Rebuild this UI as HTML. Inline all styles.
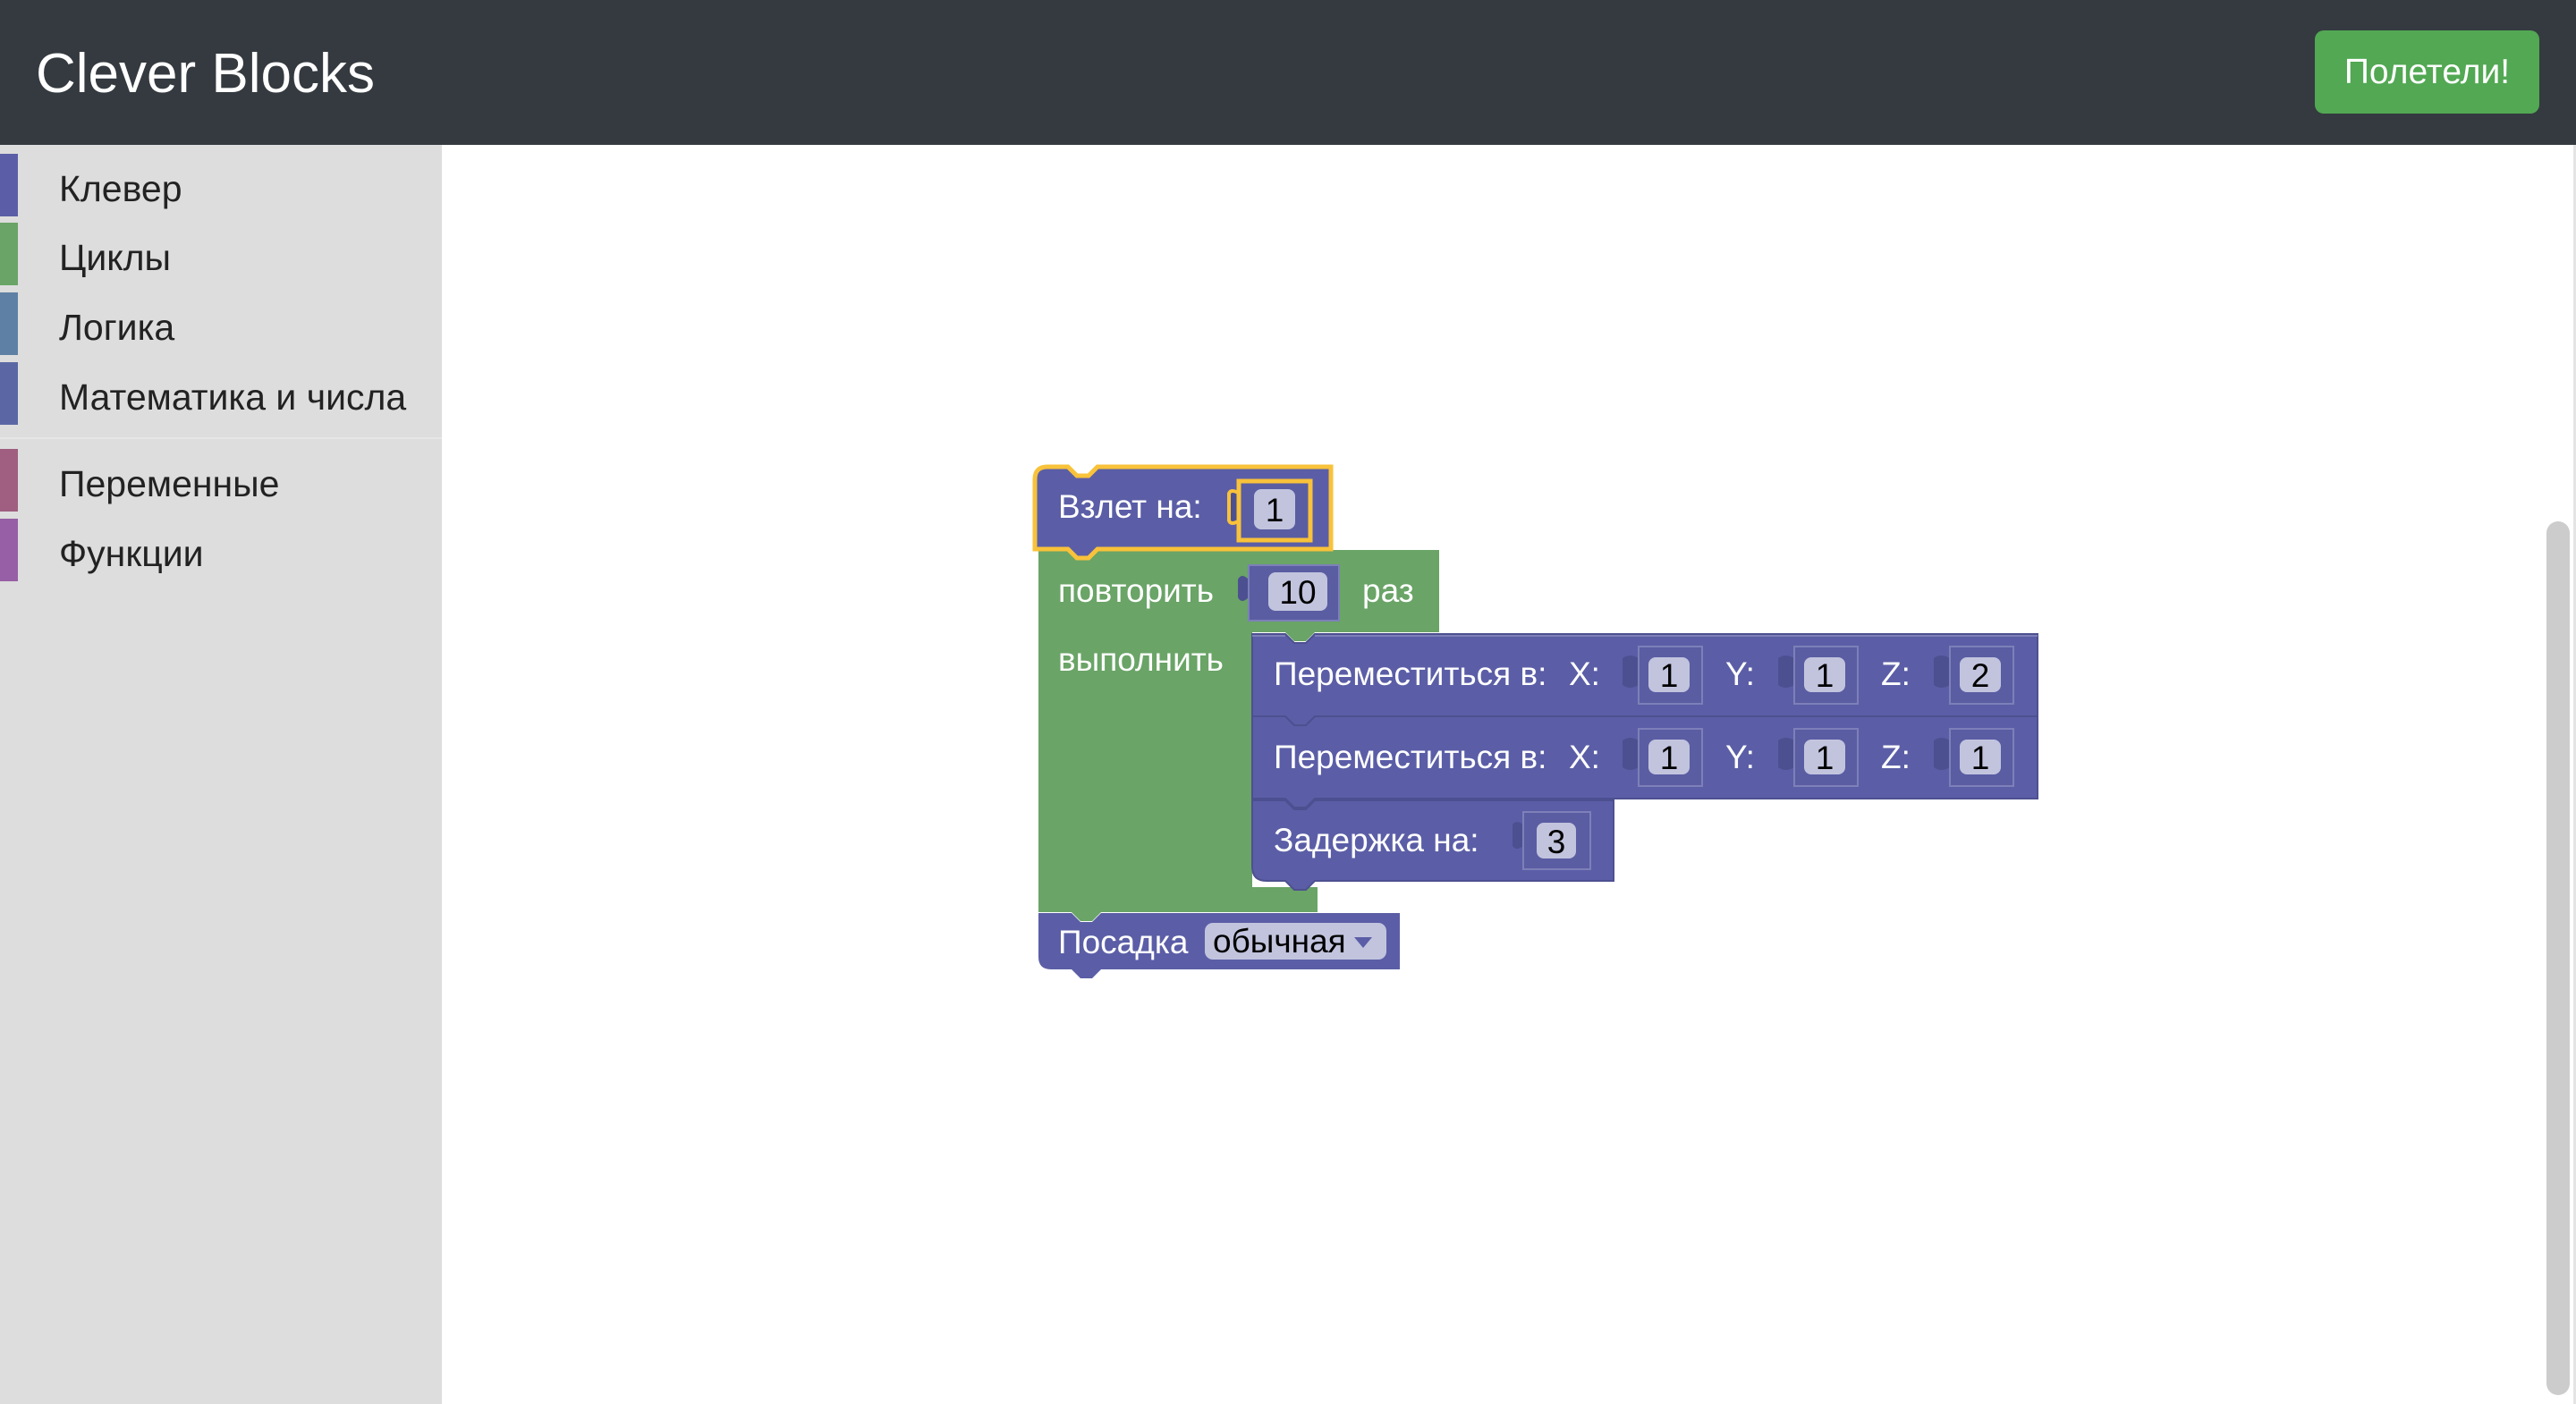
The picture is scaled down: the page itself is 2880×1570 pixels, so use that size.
<!DOCTYPE html>
<html><head><meta charset="utf-8"><style>
html,body{margin:0;padding:0;width:2880px;height:1570px;overflow:hidden;background:#fff;font-family:"Liberation Sans","Noto Sans CJK SC",sans-serif}
#hdr{position:absolute;left:0;top:0;width:2880px;height:162px;background:#343a40}
#title{position:absolute;left:40px;top:52px;font-size:62px;color:#fff;line-height:1}
#btn{position:absolute;left:2588px;top:34px;width:251px;height:93px;background:#52a853;border-radius:10px;color:#fff;font-size:39px;line-height:93px;text-align:center}
#side{position:absolute;left:0;top:162px;width:494px;height:1408px;background:#dddddd}
.it{position:absolute;left:0;height:70px;width:494px}
.it .b{position:absolute;left:0;top:0;width:20px;height:70px}
.it span{position:absolute;left:66px;top:19px;font-size:41px;color:#222;line-height:1}
#sep{position:absolute;left:0;top:327px;width:494px;height:2px;background:#e6e6e6}
#sb{position:absolute;left:2847px;top:583px;width:26px;height:977px;background:#cccccc;border-radius:13px}
#rb{position:absolute;left:2877px;top:162px;width:3px;height:1408px;background:#e4e4e4}
svg{position:absolute;left:0;top:0}
svg text{font-family:"Liberation Sans","Noto Sans CJK SC",sans-serif;font-size:37px}
</style></head><body>
<div id="hdr"><div id="title">Clever Blocks</div><div id="btn">Полетели!</div></div>
<div id="side">
<div class="it" style="top:10px"><div class="b" style="background:#5b5ea6"></div><span>Клевер</span></div>
<div class="it" style="top:87px"><div class="b" style="background:#6aa467"></div><span>Циклы</span></div>
<div class="it" style="top:165px"><div class="b" style="background:#5f80a5"></div><span>Логика</span></div>
<div class="it" style="top:243px"><div class="b" style="background:#5b67a5"></div><span>Математика и числа</span></div>
<div id="sep"></div>
<div class="it" style="top:340px"><div class="b" style="background:#a05e80"></div><span>Переменные</span></div>
<div class="it" style="top:418px"><div class="b" style="background:#975fa5"></div><span>Функции</span></div>
</div>
<div id="rb"></div>
<div id="sb"></div>
<svg width="2880" height="1570" viewBox="0 0 2880 1570">
<path d="M1161,1021 H1198 L1208,1031 H1221 L1231,1021 H1565 V1084 H1231 L1221,1094 H1208 L1198,1084 H1175 Q1161,1084 1161,1070 Z" fill="#5b5ea6"/>
<rect x="1347" y="1032" width="203" height="41" rx="9" fill="#c2c4de"/>
<text x="1183" y="1066" fill="#fff">Посадка</text>
<text x="1356" y="1065" fill="#000">обычная</text>
<path d="M1514,1048 L1534,1048 L1524,1060 Z" fill="#5b5ea6"/>
<path d="M1161,615 H1609 V707 H1470 L1460,717 H1447 L1437,707 H1400 V992 H1473 V1020 H1231 L1221,1030 H1208 L1198,1020 H1161 Z" fill="#6aa467"/>
<text x="1183" y="673" fill="#fff">повторить</text>
<text x="1523" y="673" fill="#fff">раз</text>
<text x="1183" y="750" fill="#fff">выполнить</text>
<path d="M1396,648 q-8,-8 -12,0 v20 q4,8 12,0 z" fill="#4d5090"/>
<rect x="1396" y="632" width="101" height="62" fill="#5a5da2" stroke="#7d80b8" stroke-width="2"/>
<rect x="1418" y="640" width="66" height="43" rx="8" fill="#c2c4de"/>
<text x="1451" y="675" fill="#000" text-anchor="middle">10</text>
<path d="M1171,522 H1194 L1204,532 H1217 L1227,522 H1488 V614 H1227 L1217,624 H1204 L1194,614 H1157 V536 Q1157,522 1171,522 Z" fill="#5b5ea6" stroke="#f8c23a" stroke-width="5"/>
<text x="1183" y="579" fill="#fff">Взлет на:</text>
<path d="M1386,552 q-10,-6 -12,0 v30 q2,6 12,0 z" fill="#4d5090" stroke="#f8c23a" stroke-width="4"/>
<rect x="1385" y="538" width="80" height="66" fill="#5a5da2" stroke="#f8c23a" stroke-width="5"/>
<rect x="1402" y="547" width="46" height="45" rx="8" fill="#c2c4de"/>
<text x="1425" y="583" fill="#000" text-anchor="middle">1</text>
<path d="M1400,895 H1437 L1447,905 H1460 L1470,895 H1804 V985 H1470 L1460,995 H1447 L1437,985 H1416 Q1400,985 1400,969 Z" fill="#5b5ea6" stroke="#4d5090" stroke-width="2"/>
<text x="1424" y="952" fill="#fff">Задержка на:</text>
<path d="M1703,922 q-8,-6 -12,0 v24 q4,6 12,0 z" fill="#4d5090"/>
<rect x="1703" y="908" width="75" height="64" fill="#5a5da2" stroke="#7d80b8" stroke-width="2"/>
<rect x="1718" y="920" width="44" height="40" rx="8" fill="#c2c4de"/>
<text x="1740" y="954" fill="#000" text-anchor="middle">3</text>
<path d="M1400,801 H1437 L1447,811 H1460 L1470,801 H2278 V893 H1470 L1460,903 H1447 L1437,893 H1400 Z" fill="#5b5ea6" stroke="#4d5090" stroke-width="2"/>
<text x="1424" y="859" fill="#fff">Переместиться в:</text>
<text x="1754" y="859" fill="#fff">X:</text>
<text x="1929" y="859" fill="#fff">Y:</text>
<text x="2103" y="859" fill="#fff">Z:</text>
<path d="M1400,709 H1437 L1447,719 H1460 L1470,709 H2278 V801 H1470 L1460,811 H1447 L1437,801 H1400 Z" fill="#5b5ea6" stroke="#4d5090" stroke-width="2"/>
<path d="M1400,711 H1437 M1470,711 H2278" stroke="#7d80b8" stroke-width="2"/>
<text x="1424" y="766" fill="#fff">Переместиться в:</text>
<text x="1754" y="766" fill="#fff">X:</text>
<text x="1929" y="766" fill="#fff">Y:</text>
<text x="2103" y="766" fill="#fff">Z:</text>
<g id="s">
<path d="M1832,736 q-10,-6 -18,0 v30 q8,6 18,0 z" fill="#4d5090"/>
<rect x="1832" y="723" width="71" height="64" fill="#5a5da2" stroke="#7d80b8" stroke-width="2"/>
<rect x="1843" y="735" width="46" height="39" rx="8" fill="#c2c4de"/>
</g>
<use href="#s" x="174"/><use href="#s" x="348"/>
<use href="#s" y="92"/><use href="#s" x="174" y="92"/><use href="#s" x="348" y="92"/>
<g fill="#000" text-anchor="middle">
<text x="1866" y="768">1</text><text x="2040" y="768">1</text><text x="2214" y="768">2</text>
<text x="1866" y="860">1</text><text x="2040" y="860">1</text><text x="2214" y="860">1</text>
</g>
</svg>
</body></html>
